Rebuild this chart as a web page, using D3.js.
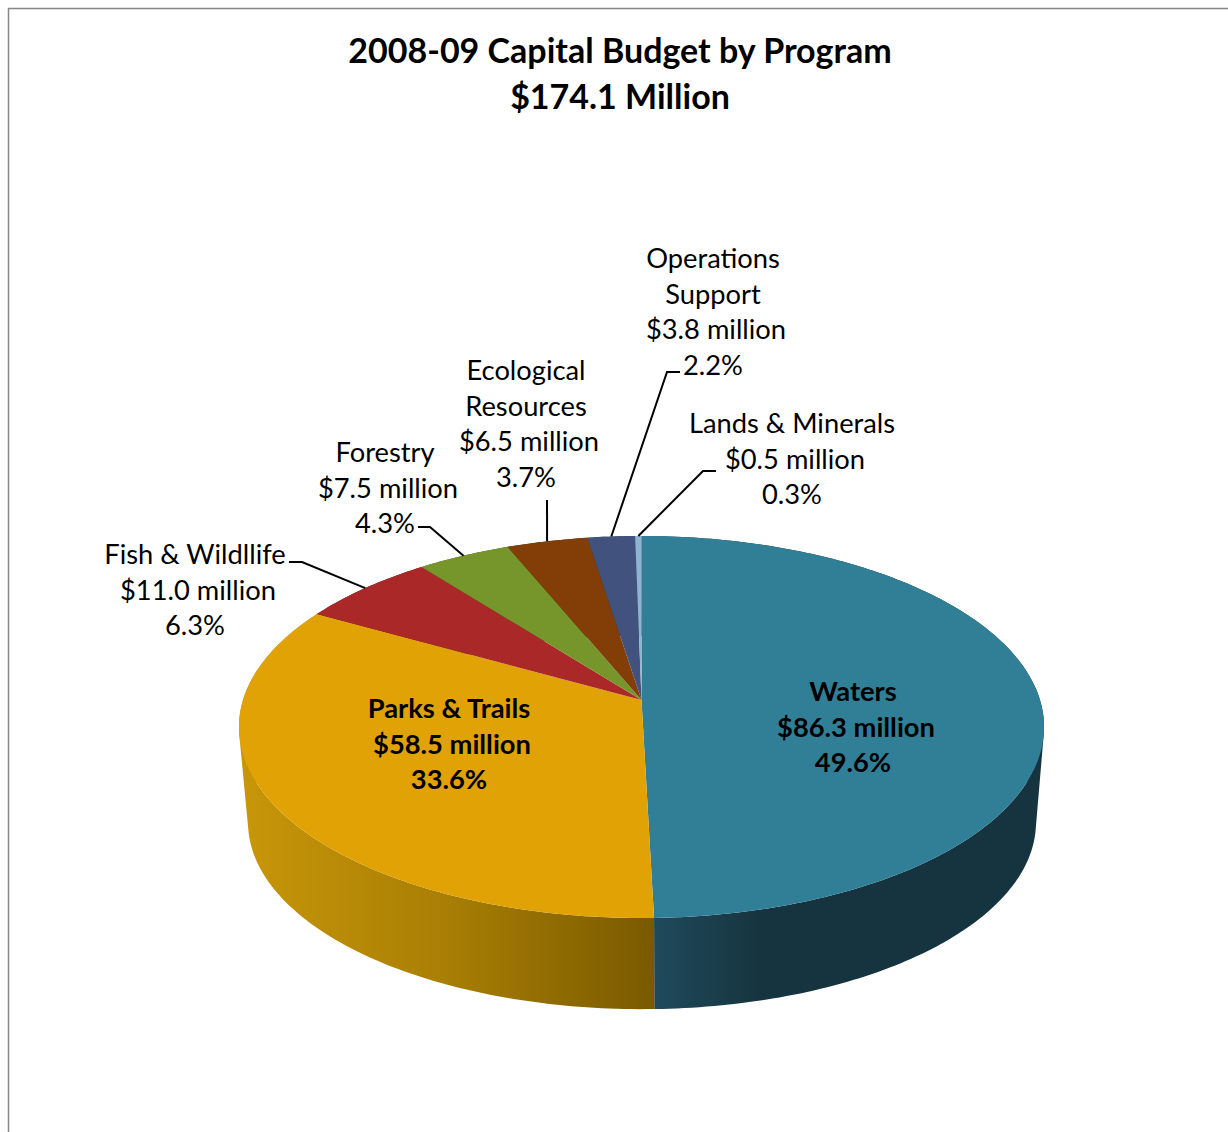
<!DOCTYPE html>
<html>
<head>
<meta charset="utf-8">
<script src="https://cdnjs.cloudflare.com/ajax/libs/d3/7.8.5/d3.min.js"></script>
<style>
  html, body { margin: 0; padding: 0; background: #fff; }
  svg { display: block; }
  text { font-family: Lato, "Open Sans", sans-serif; fill: #000; text-anchor: middle; }
</style>
</head>
<body>
<svg id="chart" width="1228" height="1132"></svg>
<script>
    // chart data
    var titleLines = ["2008-09 Capital Budget by Program", "$174.1 Million"];
    var programs = ["Waters", "Parks & Trails", "Fish & Wildllife", "Forestry", "Ecological Resources", "Operations Support", "Lands & Minerals"];
    var nameLines = [["Waters"], ["Parks & Trails"], ["Fish & Wildllife"], ["Forestry"], ["Ecological", "Resources"], ["Operations", "Support"], ["Lands & Minerals"]];
    var amounts = [86.3, 58.5, 11.0, 7.5, 6.5, 3.8, 0.5];
    var percents = [49.6, 33.6, 6.3, 4.3, 3.7, 2.2, 0.3];
    var colors = ["#317F97", "#E1A206", "#AB2829", "#76962C", "#833E08", "#41527F", "#8FB4D0"];

    // label block: centre x, y of the first line's middle
    var labelPos = [[853, 692], [449, 709], [195, 555], [385, 453], [526, 371], [713, 259], [792, 424]];
    var insideLabel = [true, true, false, false, false, false, false];
    // leader: label end of the line, elbow (the last point comes from the slice itself)
    var leaders = [null, null, [[289, 562], [302, 562]], [[418, 527], [430, 527]], [[547, 500]], [[680, 372], [667, 372]], [[716, 471], [703, 471]]];

    var svg = d3.select("#chart");
    var lineHeight = 35.6;

    // perspective projection of the pie disc
    function projector(cx, cy, a, b, k) {
        return function(angle) {
            var u = Math.sin(angle), v = -Math.cos(angle);
            var w = 1 - k * v;
            return [cx + a * u / w, cy + b * v / w];
        };
    }
    var topRim = projector(641.5, 700, 398.5, 187.2, 0.1414);
    var bottomRim = projector(642, 796, 390, 183, 0.1414);
    var topCentre = [641.5, 700];

    var pie = d3.pie().sort(null).value(function(d) { return d; });
    var slices = pie(amounts);

    function sampleAngles(d) {
        var n = Math.max(4, Math.ceil((d.endAngle - d.startAngle) * 60));
        var t = d3.scaleLinear().domain([0, n]).range([d.startAngle, d.endAngle]);
        return d3.range(n + 1).map(t);
    }

    var line = d3.line();

    // frame
    svg.append("path")
        .attr("d", line([[8.5, 1132], [8.5, 8.5], [1228, 8.5]]))
        .attr("fill", "none")
        .attr("stroke", "#868686")
        .attr("stroke-width", 1.5);

    var defs = svg.append("defs");
    function wallGradient(id, x1, x2, stops) {
        var g = defs.append("linearGradient")
            .attr("id", id)
            .attr("gradientUnits", "userSpaceOnUse")
            .attr("x1", x1).attr("x2", x2)
            .attr("y1", 0).attr("y2", 0);
        stops.forEach(function(s) {
            g.append("stop").attr("offset", s[0]).attr("stop-color", s[1]);
        });
    }
    wallGradient("wall0", 654, 1036, [[0, "#1F4A5C"], [0.28, "#16343F"], [1, "#16343F"]]);
    wallGradient("wall1", 240, 654, [[0, "#C89608"], [0.5, "#A87E04"], [1, "#7A5A00"]]);

    // side walls, one path of small quads; the hull keeps every quad wound the same way
    svg.append("g").selectAll("path")
        .data(slices)
        .join("path")
        .attr("d", function(d) {
            var angles = sampleAngles(d);
            return d3.pairs(angles).map(function(p) {
                return line(d3.polygonHull([topRim(p[0]), topRim(p[1]), bottomRim(p[1]), bottomRim(p[0])])) + "Z";
            }).join("");
        })
        .attr("fill", function(d, i) {
            return i < 2 ? "url(#wall" + i + ")" : d3.color(colors[i]).darker(1.5);
        });

    // top of the pie
    svg.append("g").selectAll("path")
        .data(slices)
        .join("path")
        .attr("d", function(d) {
            return line([topCentre].concat(sampleAngles(d).map(topRim))) + "Z";
        })
        .attr("fill", function(d, i) { return colors[i]; });

    // leaders
    svg.append("g").selectAll("path")
        .data(slices.filter(function(d, i) { return leaders[i]; }))
        .join("path")
        .attr("d", function(d) {
            var mid = (d.startAngle + d.endAngle) / 2;
            return line(leaders[d.index].concat([topRim(mid)]));
        })
        .attr("fill", "none")
        .attr("stroke", "#000")
        .attr("stroke-width", 2);

    // labels
    function labelLines(i) {
        return nameLines[i].concat(["$" + amounts[i].toFixed(1) + " million", percents[i].toFixed(1) + "%"]);
    }
    var labels = svg.append("g").selectAll("text")
        .data(programs)
        .join("text")
        .attr("font-size", 27.3)
        .attr("font-weight", function(d, i) { return insideLabel[i] ? 700 : 400; });
    labels.each(function(d, i) {
        var el = d3.select(this);
        var rows = labelLines(i);
        rows.forEach(function(row, r) {
            el.append("tspan")
                .attr("x", labelPos[i][0] + (r == rows.length - 2 ? 3 : 0))
                .attr("y", labelPos[i][1] + r * lineHeight + 9)
                .text(row);
        });
    });

    // title
    svg.append("g").selectAll("text")
        .data(titleLines)
        .join("text")
        .attr("x", 620)
        .attr("y", function(d, i) { return 63 + i * 45.5; })
        .attr("font-size", 34)
        .attr("font-weight", 700)
        .text(function(d) { return d; });
</script>
</body>
</html>
